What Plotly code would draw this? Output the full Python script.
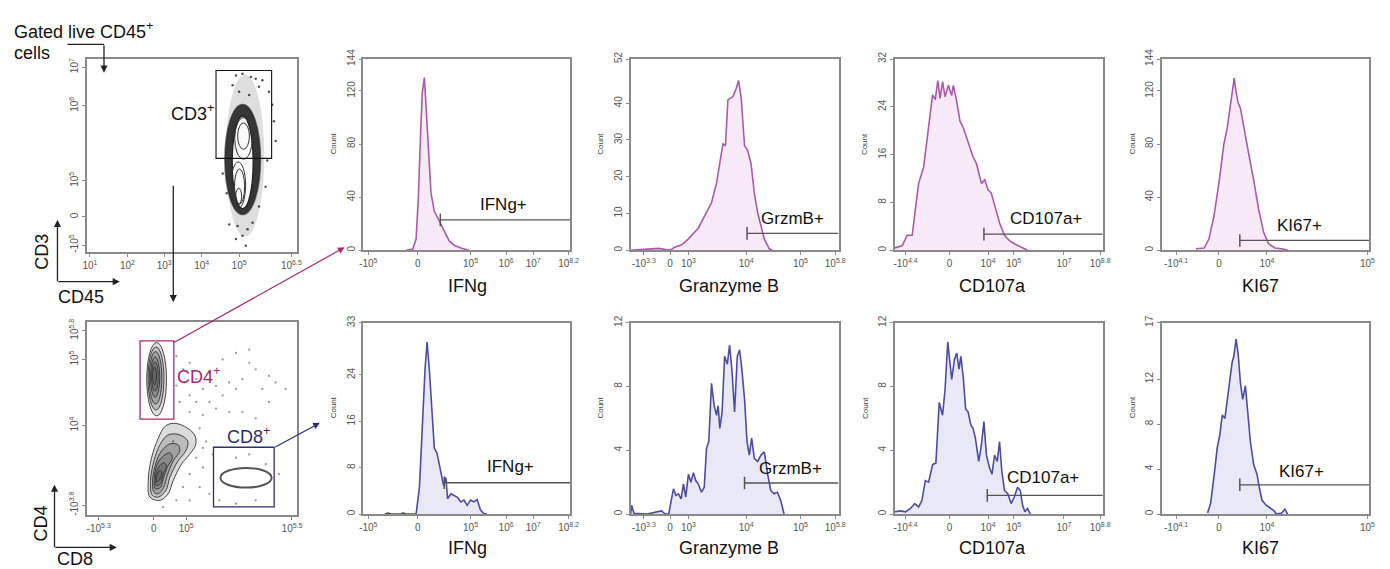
import plotly.graph_objects as go

W, H = 1390, 569
FONT = "Liberation Sans, Arial, sans-serif"

# ------------------------------------------------------------------ data
# Histogram x values are display-channel units (0-1000) of each biexponential axis
ifng_cd4_x = [207, 239, 255, 266, 276, 285, 295, 311, 327, 343, 367, 391, 415, 439, 471, 510]
ifng_cd4_y = [0, 1, 8.6, 40, 85, 119, 130, 85, 43, 29.5, 22, 15, 7, 3.7, 1.7, 0]

gzmb_cd4_x = [0, 71, 135, 190, 214, 246, 278, 325, 357, 389, 413, 429, 444, 456, 468, 492, 508, 519,
              532, 548, 563, 579, 595, 611, 627, 643, 667, 682]
gzmb_cd4_y = [0, 0.3, 0.5, 0, 0.9, 1.5, 3.1, 6.0, 9.3, 12.9, 18.2, 24.4, 28.9, 28.4, 40.9, 41.8, 44.0,
              46.2, 41.3, 28.4, 27.1, 23.6, 15.6, 10.2, 6.2, 3.1, 0.4, 0]

cd107_cd4_x = [0, 35, 59, 83, 98, 114, 138, 154, 170, 181, 194, 206, 217, 229, 241, 257, 273, 281, 297,
               313, 329, 344, 360, 376, 392, 416, 432, 448, 463, 479, 503, 527, 551, 574, 606, 638]
cd107_cd4_y = [0.4, 0.8, 2.5, 2.5, 6.8, 11.2, 13.9, 18.3, 22.2, 26.0, 25.2, 28.4, 25.4, 28.2, 25.7, 27.6,
               25.9, 27.6, 24.9, 21.6, 20.5, 18.9, 17.2, 15.6, 14.5, 11.2, 11.8, 10.1, 9.6, 7.4, 4.6,
               2.5, 1.6, 1.1, 0.5, 0]

ki67_cd4_x = [163, 203, 226, 250, 274, 298, 314, 325, 338, 348, 357, 367, 378, 394, 418, 442, 466, 490,
              514, 545, 577, 609]
ki67_cd4_y = [1.2, 1.7, 8.6, 25.8, 50.5, 80, 92, 104.6, 119, 129.7, 119, 110.8, 107, 92, 72.6, 53, 30.8,
              13.5, 4.9, 1.7, 1.2, 0]

ifng_cd8_x = [104, 120, 136, 183, 191, 207, 255, 271, 287, 298, 308, 319, 332, 343, 356, 367, 378, 388,
              399, 407, 423, 439, 455, 471, 486, 502, 518, 534, 550, 566, 582, 598]
ifng_cd8_y = [0, 0.15, 0, 0, 0.2, 0, 0, 4.6, 16.5, 24.9, 29.7, 24.9, 17.6, 11.4, 10.5, 8.6, 6.3, 4.9,
              6.3, 2.65, 3.5, 3.2, 2.9, 2.1, 2.4, 1.5, 2.4, 2.1, 2.5, 0.7, 0.1, 0]

gzmb_cd8_x = [0, 5, 16, 79, 148, 167, 183, 195, 206, 217, 230, 243, 254, 265, 278, 290, 302, 313, 325,
              341, 354, 365, 376, 389, 402, 413, 421, 429, 440, 452, 465, 476, 487, 500, 513, 524, 535,
              548, 560, 571, 582, 595, 611, 627, 643, 659, 674, 690, 706, 722, 738]
gzmb_cd8_y = [0, 0.55, 0.04, 0, 0.2, 0, 0, 0.86, 1.58, 1.17, 1.27, 0.96, 1.89, 1.07, 2.5, 2.0, 2.6, 2.1,
              1.9, 1.37, 1.68, 4.14, 4.55, 8.2, 6.8, 6.2, 6.8, 5.37, 6.4, 9.9, 9.4, 10.6, 9.1, 6.4, 9.9,
              10.3, 9.1, 7.2, 4.55, 3.7, 4.76, 3.5, 3.3, 3.7, 3.9, 2.5, 1.48, 1.27, 1.37, 0.86, 0]

cd107_cd8_x = [0, 27, 51, 75, 95, 114, 130, 146, 162, 181, 197, 213, 229, 241, 254, 265, 273, 286, 297,
               308, 317, 329, 340, 352, 365, 376, 387, 403, 416, 428, 440, 455, 467, 479, 492, 503, 514,
               527, 543, 559, 574, 590, 603, 614, 625, 638, 651]
cd107_cd8_y = [0.14, 0.2, 0.14, 0.35, 0.66, 0.45, 0.86, 2.1, 2.0, 3.1, 3.2, 7.0, 6.2, 7.8, 10.8, 9.5,
               8.45, 9.7, 10.1, 9.1, 9.9, 8.55, 6.6, 6.4, 5.6, 5.37, 4.76, 3.3, 4.35, 5.8, 3.7, 2.9, 2.5,
               3.7, 3.3, 4.55, 2.7, 1.48, 1.27, 0.66, 1.07, 1.68, 1.48, 0.55, 0.14, 0.35, 0]

ki67_cd8_x = [219, 234, 250, 266, 278, 290, 303, 314, 325, 338, 346, 357, 367, 378, 389, 402, 415, 426,
              442, 458, 469, 482, 501, 522, 538, 553, 577, 593, 606]
ki67_cd8_y = [0.09, 0.95, 3.3, 5.9, 7.0, 8.8, 8.5, 9.9, 11.65, 13.5, 14.0, 15.55, 14.25, 11.65, 10.2,
              11.4, 8.8, 6.45, 4.4, 3.55, 2.4, 1.24, 0.81, 0.52, 0.32, 0, 0.1, 0.43, 0]

# axis tick values (display channels) and labels
ifng_ticks = [24, 263, 518, 690, 821, 992]
ifng_labels = ["-10<sup>5</sup>", "0", "10<sup>5</sup>", "10<sup>6</sup>", "10<sup>7</sup>", "10<sup>8.2</sup>"]
gzmb_ticks = [63, 190, 278, 556, 817, 984]
gzmb_labels = ["-10<sup>3.3</sup>", "0", "10<sup>3</sup>", "10<sup>4</sup>", "10<sup>5</sup>", "10<sup>5.8</sup>"]
cd107_ticks = [51, 262, 448, 571, 813, 987]
cd107_labels = ["-10<sup>4.4</sup>", "0", "10<sup>4</sup>", "10<sup>5</sup>", "10<sup>7</sup>", "10<sup>8.8</sup>"]
ki67_ticks = [67, 274, 506, 992]
ki67_labels = ["-10<sup>4.1</sup>", "0", "10<sup>4</sup>", "10<sup>5</sup>"]

count_max_cd4 = [144, 52, 32, 144]
count_ticks_cd4 = [[0, 40, 80, 120, 144], [0, 10, 20, 30, 40, 52], [0, 8, 16, 24, 32], [0, 40, 80, 120, 144]]
count_max_cd8 = [33, 12, 12, 17]
count_ticks_cd8 = [[0, 8, 16, 24, 33], [0, 4, 8, 12], [0, 4, 8, 12], [0, 4, 8, 12, 17]]

markers = ["IFNg", "Granzyme B", "CD107a", "KI67"]
gate_names = ["IFNg+", "GrzmB+", "CD107a+", "KI67+"]
# gate start (channel) and level (count); label position (channel, count)
gates_cd4 = [(372, 22.9, 678, 34.5), (560, 4.6, 778, 8.6), (428, 2.7, 725, 5.3), (375, 7.4, 665, 18.5)]
gates_cd8 = [(391, 5.4, 713, 8.2), (548, 1.95, 770, 2.85), (444, 1.17, 714, 2.3), (375, 2.6, 673, 3.76)]

# ---- dot plots (display channels 0-1000)
cd3_ticks_x = [13, 192, 367, 546, 724, 973]
cd3_labels_x = ["10<sup>1</sup>", "10<sup>2</sup>", "10<sup>3</sup>", "10<sup>4</sup>", "10<sup>5</sup>", "10<sup>6.5</sup>"]
cd3_ticks_y = [37, 183, 370, 758, 958]
cd3_labels_y = ["-10<sup>5</sup>", "0", "10<sup>5</sup>", "10<sup>6</sup>", "10<sup>7</sup>"]
cd8_ticks_x = [55, 318, 472, 976]
cd8_labels_x = ["-10<sup>5.3</sup>", "0", "10<sup>5</sup>", "10<sup>5.5</sup>"]
cd4_ticks_y = [51, 463, 805, 954]
cd4_labels_y = ["-10<sup>3.8</sup>", "10<sup>4</sup>", "10<sup>5</sup>", "10<sup>5.8</sup>"]

# CD45 x CD3 population: contour ellipses (center x, center y, half width, half height)
cd3_speckle = (752, 500, 92, 420)
cd3_halo = (741, 480, 85, 285)
cd3_core = (741, 465, 50, 240)
cd3_rings_cx = [745, 745, 720, 726, 722]
cd3_rings_cy = [589, 601, 347, 340, 290]
cd3_rings_rx = [42, 28, 35, 24, 14]
cd3_rings_ry = [107, 68, 120, 91, 41]
cd3_out_x = [709, 740, 780, 803, 835, 693, 866, 890, 898, 858, 882, 717, 740, 764, 709, 788, 677, 756,
             819, 646, 665, 850, 724, 819, 772]
cd3_out_y = [915, 924, 907, 898, 890, 864, 831, 678, 576, 475, 763, 136, 85, 119, 68, 153, 144, 34,
             237, 407, 305, 339, 831, 856, 814]
cd3_gate = (614, 879, 486, 941)

# CD8 x CD4 populations
cd4_rings_cx = [331, 328, 326, 324, 323, 321]
cd4_rings_cy = [703, 707, 710, 714, 717, 720]
cd4_rings_rx = [47, 38, 30, 22, 16, 9]
cd4_rings_ry = [190, 163, 136, 105, 76, 47]
dn_rings = [
    ([299, 291, 307, 339, 370, 410, 465, 512, 517, 488, 449, 410, 386, 347],
     [93, 178, 297, 398, 458, 475, 458, 415, 364, 314, 263, 178, 110, 76]),
    ([310, 302, 318, 347, 386, 441, 480, 469, 433, 394, 375, 339],
     [102, 178, 280, 364, 415, 415, 381, 331, 280, 195, 127, 93]),
    ([318, 312, 328, 354, 394, 433, 441, 410, 381, 365, 339],
     [119, 186, 271, 331, 368, 364, 331, 280, 203, 144, 110]),
    ([324, 320, 334, 362, 394, 406, 381, 362, 350],
     [136, 195, 263, 305, 322, 297, 246, 186, 144]),
    ([328, 326, 340, 365, 378, 362, 350],
     [153, 203, 246, 271, 254, 212, 164]),
    ([331, 332, 347, 356, 347],
     [170, 208, 232, 220, 186]),
]
cd8_pop = (757, 193, 122, 51)
bl_dots_x = [425, 457, 488, 520, 551, 583, 614, 646, 677, 709, 740, 772, 803, 835, 866, 898, 945, 772,
             709, 646, 520, 488, 551, 583, 614, 488, 441, 425, 465, 536, 567, 599, 520, 551, 488, 457,
             536, 583, 630, 709, 803, 851, 914, 709, 772, 677, 740, 803, 866, 410, 551, 425, 362, 488]
bl_dots_y = [822, 754, 788, 703, 653, 737, 669, 619, 686, 653, 703, 788, 754, 653, 720, 686, 653, 856,
             839, 805, 585, 534, 517, 585, 551, 619, 585, 670, 686, 449, 381, 314, 297, 246, 212, 144,
             144, 110, 76, 59, 76, 263, 212, 297, 314, 534, 534, 500, 585, 381, 347, 76, 42, 76]
cd4_gate = (252, 413, 497, 902)
cd8_gate = (602, 891, 42, 351)

# ------------------------------------------------------------------ layout helpers
def xd(l, r):
    return [l / W, r / W]


def yd(t, b):
    return [1 - b / H, 1 - t / H]


def px(x):
    return x / W


def py(y):
    return 1 - y / H


FRAME = "#8a8a8a"
TICKFONT = dict(size=10, color="#555555", family=FONT)


def axis(domain, rng, tv, tt, anchor, angle=0):
    return dict(domain=domain, range=rng, tickmode="array", tickvals=tv, ticktext=tt, anchor=anchor,
                showline=True, mirror=True, linecolor=FRAME, linewidth=1.6, ticks="outside", ticklen=3,
                tickwidth=1, tickcolor=FRAME, showgrid=False, zeroline=False, tickfont=TICKFONT,
                tickangle=angle, fixedrange=True, ticklabelstandoff=0)


fig = go.Figure()
layout = dict(width=W, height=H, margin=dict(l=0, r=0, t=0, b=0), paper_bgcolor="white",
              plot_bgcolor="white", showlegend=False, font=dict(family=FONT, color="#111"))
shapes = []
annots = []


def label(x, y, text, size=18, color="#111", angle=0, xanchor="center"):
    return dict(x=px(x), y=py(y), xref="paper", yref="paper", text=text, showarrow=False,
                xanchor=xanchor, yanchor="middle", textangle=angle, font=dict(size=size, color=color))


# dot-plot axes
layout["xaxis"] = axis(xd(83, 295), [0, 1000], cd3_ticks_x, cd3_labels_x, "y")
layout["yaxis"] = axis(yd(50, 247), [0, 1000], cd3_ticks_y, cd3_labels_y, "x", -90)
layout["xaxis2"] = axis(xd(83, 295), [0, 1000], cd8_ticks_x, cd8_labels_x, "y2")
layout["yaxis2"] = axis(yd(318, 515), [0, 1000], cd4_ticks_y, cd4_labels_y, "x2", -90)

# histogram axes
hx = [(362, 571), (632, 842), (899, 1109), (1169, 1378)]
rows = [(50, 245), (319, 514)]
hist_data = [
    [(ifng_cd4_x, ifng_cd4_y), (gzmb_cd4_x, gzmb_cd4_y), (cd107_cd4_x, cd107_cd4_y), (ki67_cd4_x, ki67_cd4_y)],
    [(ifng_cd8_x, ifng_cd8_y), (gzmb_cd8_x, gzmb_cd8_y), (cd107_cd8_x, cd107_cd8_y), (ki67_cd8_x, ki67_cd8_y)],
]
xticks = [(ifng_ticks, ifng_labels), (gzmb_ticks, gzmb_labels), (cd107_ticks, cd107_labels), (ki67_ticks, ki67_labels)]
row_max = [count_max_cd4, count_max_cd8]
row_ticks = [count_ticks_cd4, count_ticks_cd8]
row_gates = [gates_cd4, gates_cd8]
row_line = ["#a95aa8", "#4c4ca0"]
row_fill = ["rgba(236,200,232,0.4)", "rgba(205,205,236,0.45)"]
title_y = [281, 549]
title_x = [467, 731, 998, 1268]
GATE = "#555555"

n = 3
for r in range(2):
    top, bot = rows[r]
    for c in range(4):
        xa, ya = f"x{n}", f"y{n}"
        layout[f"xaxis{n}"] = axis(xd(*hx[c]), [0, 1000], xticks[c][0], xticks[c][1], ya)
        layout[f"yaxis{n}"] = axis(yd(top, bot), [0, row_max[r][c]], row_ticks[r][c],
                                   [str(v) for v in row_ticks[r][c]], xa, -90)
        hxv, hyv = hist_data[r][c]
        fig.add_trace(go.Scatter(x=hxv, y=hyv, mode="lines", fill="tozeroy", fillcolor=row_fill[r],
                                 line=dict(color=row_line[r], width=1.6), xaxis=xa, yaxis=ya,
                                 hoverinfo="skip"))
        g0, lev, tx, ty = row_gates[r][c]
        fig.add_trace(go.Scatter(x=[g0, 1000], y=[lev, lev], mode="lines",
                                 line=dict(color=GATE, width=1.3), xaxis=xa, yaxis=ya, hoverinfo="skip"))
        fig.add_trace(go.Scatter(x=[g0], y=[lev], mode="markers",
                                 marker=dict(symbol="line-ns-open", size=9, color=GATE,
                                             line=dict(width=1.5, color=GATE)),
                                 xaxis=xa, yaxis=ya, hoverinfo="skip"))
        annots.append(dict(x=tx, y=ty, xref=xa, yref=ya, text=gate_names[c], showarrow=False,
                           xanchor="center", yanchor="middle", font=dict(size=17, color="#111")))
        annots.append(label(title_x[c], title_y[r], markers[c]))
        annots.append(label(hx[c][0] - 30, (top + bot) / 2 - 11, "Count", size=8, color="#444", angle=-90))
        n += 1


def ellipse(cx, cy, rx, ry, xref, yref, width=1.0, color="#111", fill=None):
    return dict(type="circle", xref=xref, yref=yref, x0=cx - rx, x1=cx + rx, y0=cy - ry, y1=cy + ry,
                line=dict(color=color, width=width), fillcolor=fill if fill else "rgba(0,0,0,0)")


# ---- CD45 x CD3 plot
fig.add_trace(go.Scatter(x=cd3_out_x, y=cd3_out_y, mode="markers", marker=dict(size=2.5, color="#555"),
                         xaxis="x", yaxis="y", hoverinfo="skip"))
shapes.append(ellipse(*cd3_speckle, "x", "y", width=0, color="rgba(0,0,0,0)", fill="rgba(0,0,0,0.13)"))
shapes.append(ellipse(*cd3_halo, "x", "y", width=1.5, color="rgba(40,40,40,0.6)", fill="rgba(25,25,25,0.85)"))
shapes.append(ellipse(*cd3_core, "x", "y", width=1.3, color="#222", fill="rgba(250,250,250,1)"))
for i in range(len(cd3_rings_cx)):
    shapes.append(ellipse(cd3_rings_cx[i], cd3_rings_cy[i], cd3_rings_rx[i], cd3_rings_ry[i], "x", "y",
                          width=1.0, color="#333"))
shapes.append(dict(type="rect", xref="x", yref="y", x0=cd3_gate[0], x1=cd3_gate[1], y0=cd3_gate[2],
                   y1=cd3_gate[3], line=dict(color="#111", width=1.1)))

# ---- CD8 x CD4 plot
fig.add_trace(go.Scatter(x=bl_dots_x, y=bl_dots_y, mode="markers", marker=dict(size=2.3, color="#9a9a9a"),
                         xaxis="x2", yaxis="y2", hoverinfo="skip"))
for i in range(len(cd4_rings_cx)):
    shapes.append(ellipse(cd4_rings_cx[i], cd4_rings_cy[i], cd4_rings_rx[i], cd4_rings_ry[i], "x2", "y2",
                          width=0.9, color="#333", fill="rgba(0,0,0,0.14)"))
for i, (rx_, ry_) in enumerate(dn_rings):
    fig.add_trace(go.Scatter(x=rx_ + [rx_[0]], y=ry_ + [ry_[0]], mode="lines",
                             line=dict(color="#333", width=0.9, shape="spline", smoothing=1.0),
                             fill="toself", fillcolor="rgba(0,0,0,0.14)",
                             xaxis="x2", yaxis="y2", hoverinfo="skip"))
shapes.append(ellipse(*cd8_pop, "x2", "y2", width=2.0, color="#555"))
shapes.append(dict(type="rect", xref="x2", yref="y2", x0=cd4_gate[0], x1=cd4_gate[1], y0=cd4_gate[2],
                   y1=cd4_gate[3], line=dict(color="#a8286e", width=1.3)))
shapes.append(dict(type="rect", xref="x2", yref="y2", x0=cd8_gate[0], x1=cd8_gate[1], y0=cd8_gate[2],
                   y1=cd8_gate[3], line=dict(color="#2c2c78", width=1.3)))

# ---- texts and arrows
annots += [
    label(7, 21, "Gated live CD45<sup>+</sup>", xanchor="left"),
    label(7, 44, "cells", xanchor="left"),
    label(189, 105, "CD3<sup>+</sup>"),
    label(38, 247, "CD3", angle=-90),
    label(77, 293, "CD45"),
    label(36, 524, "CD4", angle=-90),
    label(71, 560, "CD8"),
    label(195, 373, "CD4<sup>+</sup>", color="#a8286e"),
    label(246, 434, "CD8<sup>+</sup>", color="#2c2c78"),
]


def arrow(hx_, hy_, tx_, ty_, color="#222", width=1.3):
    return dict(x=px(hx_), y=py(hy_), xref="paper", yref="paper", ax=tx_ - hx_, ay=ty_ - hy_,
                axref="pixel", ayref="pixel", text="", showarrow=True, arrowhead=2, arrowsize=1.1,
                arrowwidth=width, arrowcolor=color)


annots += [
    arrow(100, 64, 100, 35),
    arrow(170, 298, 170, 180),
    arrow(53, 214, 53, 277),
    arrow(116, 277, 53, 277),
    arrow(50, 484, 50, 548),
    arrow(113, 548, 50, 548),
    arrow(343, 242, 171, 338, color="#a8286e", width=1.2),
    arrow(318, 421, 272, 446, color="#2c2c78", width=1.2),
]
shapes.append(dict(type="line", xref="paper", yref="paper", x0=px(63), x1=px(100), y0=py(35), y1=py(35),
                   line=dict(color="#222", width=1.3)))

layout["shapes"] = shapes
layout["annotations"] = annots
fig.update_layout(**layout)

fig.write_html("out.html", config={"displayModeBar": False},
               post_script="document.body.style.margin='0';document.body.style.overflow='hidden';")
